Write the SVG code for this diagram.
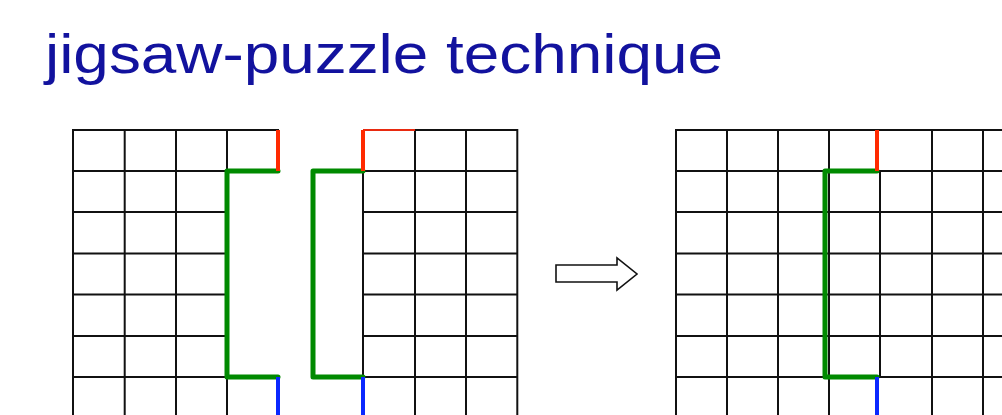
<svg xmlns="http://www.w3.org/2000/svg" width="1002" height="415" viewBox="0 0 1002 415">
  <style>
    .title { font-family: "Liberation Sans", Arial, sans-serif; font-size: 56px; fill: #12129e; }
    .grid { stroke: #111; stroke-width: 2; fill: none; stroke-linecap: square; }
    .green { stroke: #008a00; stroke-width: 5; fill: none; stroke-linejoin: round; stroke-linecap: round; }
    .red { stroke: #ff2a00; stroke-width: 4; fill: none; }
    .redthin { stroke: #e82a10; stroke-width: 2; fill: none; }
    .blue { stroke: #0a28ff; stroke-width: 4; fill: none; }
    .arrow { fill: #fff; stroke: #111; stroke-width: 1.6; stroke-linejoin: miter; }
  </style>
  <rect width="1002" height="415" fill="#fff"/>

  <g id="title">
    <text class="title" x="45" y="73" textLength="678" lengthAdjust="spacingAndGlyphs">jigsaw-puzzle technique</text>
  </g>

  <g id="piece-left">
    <path class="grid" d="M73 130H278 M73 171H227 M73 212H227 M73 253.5H227 M73 294.5H227 M73 336H227 M73 377H227
      M73 130V420 M124.7 130V420 M176 130V420 M227 130V171 M227 377V420"/>
    <path class="green" d="M278 171H227V377H278"/>
    <path class="red" d="M278 130V171"/>
    <path class="blue" d="M278 377V420"/>
  </g>

  <g id="piece-middle">
    <path class="grid" d="M415 130H517 M363 171H517 M363 212H517 M363 253.5H517 M363 294.5H517 M363 336H517 M363 377H517
      M363 171V377 M415 130V420 M466 130V420 M517.3 130V420"/>
    <path class="redthin" d="M363 130H415"/>
    <path class="green" d="M363 171H313V377H363"/>
    <path class="red" d="M363 130V171"/>
    <path class="blue" d="M363 377V420"/>
  </g>

  <g id="connectors">
    <polygon id="arrow" class="arrow" points="556,265 617,265 617,258 637,274 617,290 617,282 556,282"/>
  </g>

  <g id="piece-combined">
    <path class="grid" d="M676 130H1010 M676 171H1010 M676 212H1010 M676 253.5H1010 M676 294.5H1010 M676 336H1010 M676 377H1010
      M676 130V420 M727 130V420 M778 130V420 M829 130V420 M880 171V377 M932 130V420 M983 130V420"/>
    <path class="green" d="M877 171H825V377H877"/>
    <path class="red" d="M877 130V171"/>
    <path class="blue" d="M877 377V420"/>
  </g>
</svg>
